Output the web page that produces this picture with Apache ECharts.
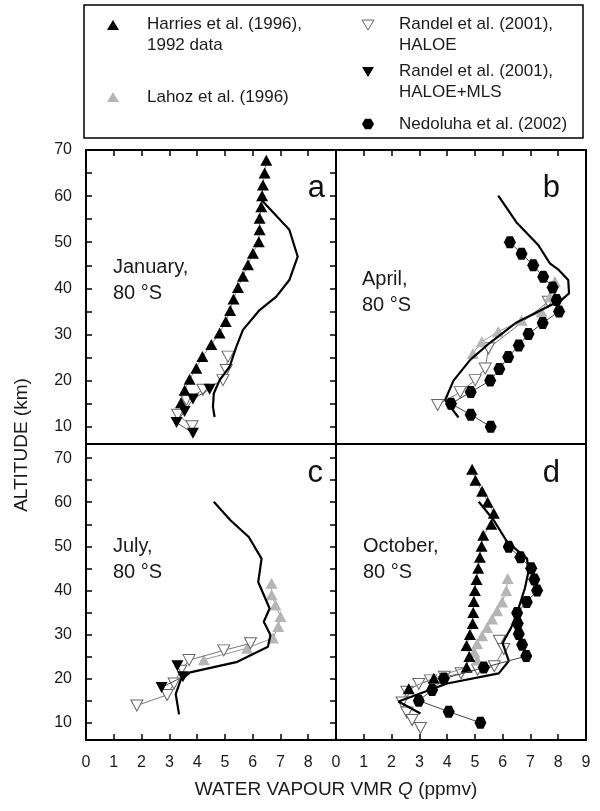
<!DOCTYPE html>
<html>
<head>
<meta charset="utf-8">
<script src="https://cdn.jsdelivr.net/npm/echarts@6/dist/echarts.min.js"></script>
<style>
html,body{margin:0;padding:0;background:#fff;}
#chart{width:600px;height:811px;}
</style>
</head>
<body>
<div id="chart"></div>
<script>
// ---------- DATA: [water vapour VMR Q (ppmv), altitude (km)] ----------
// Panel a: January, 80 °S
const harriesA = [[6.49,67.8],[6.43,65.0],[6.37,62.4],[6.34,60.1],[6.31,57.7],[6.25,55.2],[6.25,52.7],[6.22,50.1],[6.01,47.6],[5.83,45.1],[5.65,42.6],[5.47,40.2],[5.31,37.7],[5.19,35.2],[5.03,32.8],[4.81,30.3],[4.51,27.8],[4.19,25.2],[3.97,22.7],[3.73,20.3],[3.55,17.9],[3.42,15.2]];
const haloeA = [[5.11,25.2],[5.05,22.3],[4.93,20.1],[4.21,18.0],[3.61,15.8],[3.30,12.6],[3.82,10.1]];
const haloeMlsA = [[4.45,18.1],[3.85,16.0],[3.55,13.3],[3.26,10.9],[3.85,8.6]];
const modelA = [[6.22,59.8],[7.32,52.7],[7.62,46.9],[7.32,41.8],[6.85,38.2],[6.25,35.3],[5.65,31.0],[5.41,27.3],[5.17,23.0],[4.81,20.1],[4.60,17.2],[4.57,14.3],[4.63,12.1]];

// Panel b: April, 80 °S
const lahozB = [[7.88,41.5],[7.70,38.2],[7.40,34.9],[6.68,33.1],[5.84,30.6],[5.25,28.4],[4.93,25.9]];
const haloeB = [[7.64,37.1],[5.49,27.0],[5.37,22.6],[5.01,20.1],[4.47,17.5],[3.66,14.7]];
const nedoluhaB = [[6.26,50.0],[6.68,47.5],[7.10,45.0],[7.46,42.5],[7.80,40.2],[7.94,37.5],[8.03,35.0],[7.44,32.5],[6.93,30.1],[6.58,27.6],[6.20,25.1],[5.88,22.5],[5.55,20.0],[4.85,17.5],[4.14,15.0],[4.85,12.6],[5.57,10.0]];
const modelB = [[5.84,60.1],[6.50,54.3],[7.28,49.4],[7.70,45.4],[8.02,44.0],[8.36,41.8],[8.39,38.9],[8.12,37.5],[7.62,36.0],[6.50,32.6],[5.54,28.2],[4.83,24.5],[4.23,20.0],[3.93,15.8],[4.41,12.0]];

// Panel c: July, 80 °S
const lahozC = [[6.68,41.6],[6.68,39.0],[6.82,36.7],[7.00,34.1],[6.92,31.8],[6.73,29.2],[5.80,26.9],[4.24,24.3]];
const haloeC = [[5.92,28.0],[4.96,26.4],[3.71,24.2],[3.41,21.8],[3.17,18.9],[2.92,16.3],[1.83,13.9]];
const haloeMlsC = [[3.29,22.9],[3.49,20.4],[2.72,18.0]];
const modelC = [[4.60,60.1],[5.20,55.9],[5.86,52.1],[6.32,47.2],[6.20,41.9],[6.61,35.9],[6.40,32.9],[6.64,29.9],[6.55,27.2],[5.45,23.8],[3.75,21.4],[3.41,19.7],[3.23,16.5],[3.35,11.9]];

// Panel d: October, 80 °S
const harriesD = [[4.90,67.5],[5.02,65.0],[5.26,62.5],[5.46,60.0],[5.68,57.5],[5.59,55.0],[5.30,52.5],[5.24,50.0],[5.18,47.5],[5.12,45.0],[5.06,42.5],[5.00,40.0],[4.96,37.5],[4.94,35.0],[4.92,32.5],[4.82,30.0],[4.70,27.5],[4.80,25.0],[4.70,22.6],[3.52,20.1],[2.62,17.7]];
const lahozD = [[6.18,42.7],[6.13,39.9],[5.98,37.4],[5.80,35.4],[5.62,33.5],[5.44,31.6],[5.26,29.7],[5.08,27.9],[4.98,26.0],[5.08,24.2]];
const haloeD = [[5.88,28.6],[6.04,26.7],[5.70,22.8],[5.10,22.0],[4.50,21.2],[3.90,20.4],[3.40,19.6],[2.98,18.8],[2.55,17.0],[2.38,14.6],[2.55,12.3],[2.74,10.6],[3.04,8.8]];
const nedoluhaD = [[6.22,49.9],[6.64,47.5],[7.03,45.0],[7.14,42.5],[7.24,40.0],[6.87,37.4],[6.52,34.9],[6.54,32.5],[6.58,30.1],[6.70,27.7],[6.85,25.1],[5.32,22.5],[3.88,20.0],[3.46,17.4],[2.98,15.0],[4.06,12.5],[5.20,10.0]];
const modelD = [[5.14,60.1],[5.68,55.9],[6.16,51.0],[6.88,47.2],[6.92,44.0],[6.80,40.5],[6.50,34.5],[6.30,31.5],[6.08,29.0],[6.00,28.0],[6.22,24.0],[5.86,21.2],[4.00,18.9],[2.25,14.8],[3.04,12.1]];

// Axis ticks / labels
const xTickVals = [1,2,3,4,5,6,7,8];
const xLabelsLeft = [0,1,2,3,4,5,6,7,8];
const xLabelsRight = [0,1,2,3,4,5,6,7,8,9];
const yTickVals = [10,15,20,25,30,35,40,45,50,55,60,65,70];
const yLabelVals = [10,20,30,40,50,60,70];

const panelLetters = ['a','b','c','d'];
const panelTexts = ['January,\n80 °S','April,\n80 °S','July,\n80 °S','October,\n80 °S'];
const legendNames = ['Harries et al. (1996),\n1992 data','Lahoz et al. (1996)','Randel et al. (2001),\nHALOE','Randel et al. (2001),\nHALOE+MLS','Nedoluha et al. (2002)'];

// ---------- CHART ----------
const FONT = '"Liberation Sans", Arial, sans-serif';
const chart = echarts.init(document.getElementById('chart'), null, {renderer:'canvas'});
const hexPath = 'path://M-1,0L-0.5,-0.866L0.5,-0.866L1,0L0.5,0.866L-0.5,0.866Z';

const L = 86, W = 250, TU = 150, HU = 294, TL = 444, HL = 296;
const grids = [
  {left:L, top:TU, width:W, height:HU},
  {left:L+W, top:TU, width:W, height:HU},
  {left:L, top:TL, width:W, height:HL},
  {left:L+W, top:TL, width:W, height:HL}
].map(g => Object.assign(g, {show:true, borderColor:'#000', borderWidth:2, backgroundColor:'transparent'}));

function xAx(i){
  const lower = i >= 2;
  return {
    type:'value', gridIndex:i, min:0, max:9, position: lower ? 'bottom' : 'top',
    axisLine:{show:false}, splitLine:{show:false},
    axisTick:{show:true, inside:true, length:6, customValues:xTickVals, lineStyle:{color:'#000', width:1.5}},
    axisLabel:{show:lower, customValues: i===2 ? xLabelsLeft : xLabelsRight, margin:15,
      fontSize:16, color:'#1a1a1a', fontFamily:FONT}
  };
}
function yAx(i){
  const left = (i % 2) === 0;
  const upper = i < 2;
  return {
    type:'value', gridIndex:i, min: upper ? 6.25 : 6.08, max: upper ? 70 : 73.2,
    position: left ? 'left' : 'right',
    axisLine:{show:false}, splitLine:{show:false},
    axisTick:{show:true, inside:true, length:6, customValues:yTickVals, lineStyle:{color:'#000', width:1.5}},
    axisLabel:{show:left, customValues:yLabelVals, margin:14, fontSize:16, color:'#1a1a1a', fontFamily:FONT}
  };
}

const STY = {
  harries:{symbol:'triangle', size:[12,11], rotate:0, fill:'#000', stroke:'#000', bw:0, line:'#888'},
  lahoz:{symbol:'triangle', size:[12,11], rotate:0, fill:'#b5b5b5', stroke:'#b5b5b5', bw:0, line:'#999'},
  haloe:{symbol:'triangle', size:[12,11], rotate:180, fill:'#fff', stroke:'#666', bw:1, line:'#777'},
  mls:{symbol:'triangle', size:[12,11], rotate:180, fill:'#000', stroke:'#000', bw:0, line:'#555'},
  nedoluha:{symbol:hexPath, size:[12,12], rotate:0, fill:'#000', stroke:'#000', bw:0, line:'#444'}
};
function obs(kind, data, i, z){
  const s = STY[kind];
  return {type:'line', xAxisIndex:i, yAxisIndex:i, data:data, z:z, silent:true, animation:false,
    symbol:s.symbol, symbolSize:s.size, symbolRotate:s.rotate, showSymbol:true,
    itemStyle:{color:s.fill, borderColor:s.stroke, borderWidth:s.bw},
    lineStyle:{color:s.line, width:1}};
}
function model(data, i){
  return {type:'line', xAxisIndex:i, yAxisIndex:i, data:data, z:6, silent:true, animation:false,
    showSymbol:false, symbol:'none', lineStyle:{color:'#000', width:2.2}};
}

const series = [
  obs('haloe', haloeA, 0, 3), obs('harries', harriesA, 0, 4), obs('mls', haloeMlsA, 0, 5), model(modelA, 0),
  obs('haloe', haloeB, 1, 3), obs('lahoz', lahozB, 1, 4), model(modelB, 1), obs('nedoluha', nedoluhaB, 1, 7),
  obs('lahoz', lahozC, 2, 3), obs('haloe', haloeC, 2, 4), obs('mls', haloeMlsC, 2, 5), model(modelC, 2),
  obs('haloe', haloeD, 3, 3), obs('lahoz', lahozD, 3, 4), obs('harries', harriesD, 3, 5), model(modelD, 3), obs('nedoluha', nedoluhaD, 3, 7)
];

// ---------- GRAPHIC: legend box, panel labels, axis titles ----------
const g = [];
g.push({type:'rect', shape:{x:84, y:5, width:499, height:133}, style:{fill:'#fff', stroke:'#000', lineWidth:1.5}, z:1});
function tri(cx, cy, down, fill, stroke){
  const pts = down ? [[cx-6,cy-5],[cx+6,cy-5],[cx,cy+5]] : [[cx-6,cy+5],[cx+6,cy+5],[cx,cy-5]];
  return {type:'polygon', shape:{points:pts}, style:{fill:fill, stroke:stroke, lineWidth: stroke==='none'?0:1}, z:2};
}
g.push(tri(113,25,false,'#000','none'));
g.push(tri(113,97,false,'#b5b5b5','none'));
g.push(tri(368,25,true,'#fff','#666'));
g.push(tri(368,72,true,'#000','none'));
const hx = [];
for (let k=0;k<6;k++){ const a = Math.PI/3*k; hx.push([368+6*Math.cos(a), 124+6*Math.sin(a)]); }
g.push({type:'polygon', shape:{points:hx}, style:{fill:'#000'}, z:2});
const legPos = [[147,14],[147,97-10.5],[399,14],[399,61],[399,124-10.5]];
legendNames.forEach((t,k)=>{
  g.push({type:'text', x:legPos[k][0], y:legPos[k][1], z:2,
    style:{text:t, fontSize:17, lineHeight:21, fontFamily:FONT, fill:'#1a1a1a', textAlign:'left', textVerticalAlign:'top'}});
});
// panel letters
const letterPos = [[325,188],[560,188],[323,473],[560,473]];
panelLetters.forEach((t,k)=>{
  g.push({type:'text', x:letterPos[k][0], y:letterPos[k][1], z:10,
    style:{text:t, fontSize:31, fontFamily:FONT, fill:'#111', textAlign:'right', textVerticalAlign:'middle'}});
});
// month texts
const monthPos = [[113,254],[362,266],[113,533],[363,533]];
panelTexts.forEach((t,k)=>{
  g.push({type:'text', x:monthPos[k][0], y:monthPos[k][1], z:10,
    style:{text:t, fontSize:20, lineHeight:26, fontFamily:FONT, fill:'#1a1a1a', textAlign:'left', textVerticalAlign:'top'}});
});
// axis titles
g.push({type:'text', x:22, y:445, rotation:Math.PI/2, z:10,
  style:{text:'ALTITUDE (km)', fontSize:19, fontFamily:FONT, fill:'#1a1a1a', textAlign:'center', textVerticalAlign:'middle'}});
g.push({type:'text', x:336, y:790, z:10,
  style:{text:'{a|WATER VAPOUR VMR }{q|Q}{a| (ppmv)}', textAlign:'center', textVerticalAlign:'middle',
    rich:{a:{fontSize:19, fontFamily:FONT, fill:'#1a1a1a', color:'#1a1a1a'}, q:{fontSize:19, fontFamily:FONT, fontStyle:'italic', fill:'#1a1a1a', color:'#1a1a1a'}}}});

chart.setOption({
  animation:false,
  backgroundColor:'#fff',
  grid:grids,
  xAxis:[0,1,2,3].map(xAx),
  yAxis:[0,1,2,3].map(yAx),
  series:series,
  graphic:g
});
</script>
</body>
</html>
